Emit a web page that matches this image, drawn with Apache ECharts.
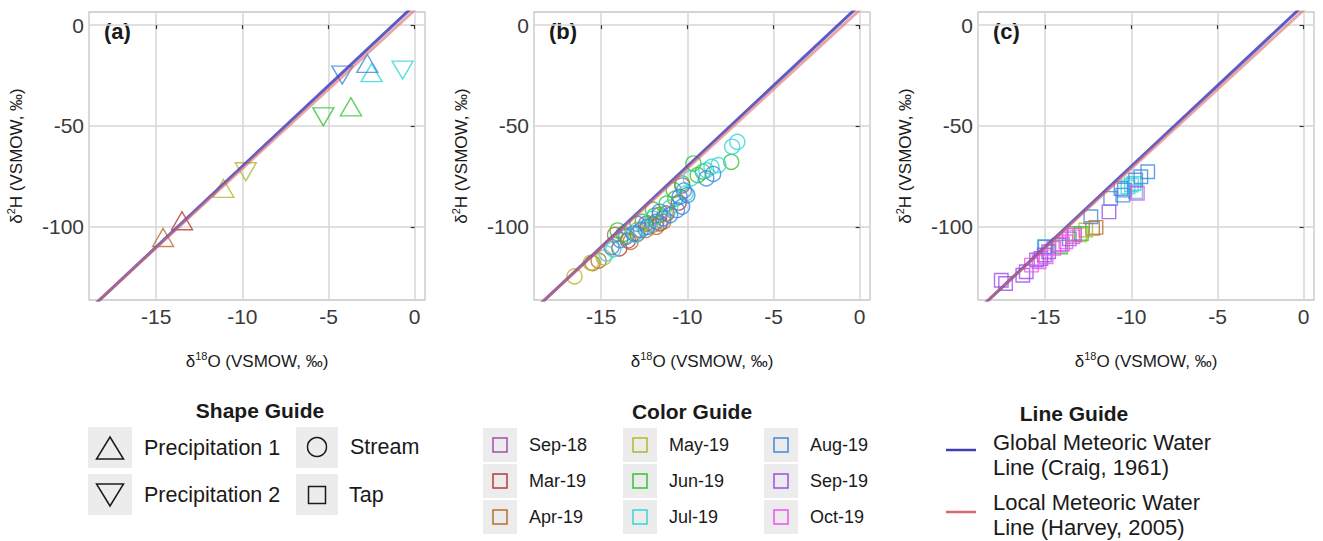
<!DOCTYPE html>
<html><head><meta charset="utf-8">
<script src="https://cdn.jsdelivr.net/npm/echarts@6/dist/echarts.min.js"></script>
<style>html,body{margin:0;padding:0;background:#fff}#c{width:1323px;height:541px}</style>
</head><body><div id="c"></div>
<script>
// ---------- data ----------
const months = ['Sep-18','Mar-19','Apr-19','May-19','Jun-19','Jul-19','Aug-19','Sep-19','Oct-19'];
const monthColors = ['#a64ca6','#b83a3a','#b5702e','#b5b52e','#33c433','#33d6d6','#3f88e0','#9b4ee8','#f050f0'];
const xTicks = [-15,-10,-5,0];
const yTicks = [-100,-50,0];
const panelLabels = ['(a)','(b)','(c)'];
// meteoric water lines: [slope, intercept]
const gmwl = [8, 10];        // Craig, 1961
const lmwl = [7.86, 7.5];    // Harvey, 2005
// [d18O, d2H, month]
const precip1 = [[-14.6,-105.3,'Apr-19'],[-13.5,-97.0,'Mar-19'],[-11.1,-81.0,'May-19'],[-3.7,-40.5,'Jun-19'],[-2.75,-19.0,'Aug-19'],[-2.5,-23.6,'Jul-19']];
const precip2 = [[-9.8,-72.7,'May-19'],[-5.3,-45.5,'Jun-19'],[-4.2,-24.8,'Aug-19'],[-0.7,-22.3,'Jul-19']];
const stream = [
 [-10.3,-79.5,'Sep-18'],[-12.4,-98.5,'Sep-18'],[-11.6,-94,'Sep-18'],
 [-13.95,-110.7,'Mar-19'],[-13.45,-106.8,'Mar-19'],[-11.2,-93.4,'Mar-19'],[-11.6,-98.3,'Mar-19'],[-12.9,-103.5,'Mar-19'],[-10.5,-88,'Mar-19'],
 [-15.5,-118,'Apr-19'],[-15.15,-116.8,'Apr-19'],[-12.4,-101.6,'Apr-19'],[-11.8,-100,'Apr-19'],[-11.4,-97.5,'Apr-19'],[-13.3,-107.5,'Apr-19'],[-12.0,-99,'Apr-19'],[-14.2,-104,'Apr-19'],
 [-16.55,-124.6,'May-19'],[-15.6,-117.8,'May-19'],[-14.85,-115.2,'May-19'],[-13.6,-104.5,'May-19'],[-12.9,-101.5,'May-19'],[-12.2,-98.5,'May-19'],[-11.3,-93.5,'May-19'],
 [-14.05,-101.8,'Jun-19'],[-13.7,-103.5,'Jun-19'],[-12.6,-97.5,'Jun-19'],[-11.9,-94.5,'Jun-19'],[-10.8,-81.8,'Jun-19'],[-10.7,-86,'Jun-19'],[-10.3,-78.5,'Jun-19'],[-9.65,-68.6,'Jun-19'],[-9.1,-72.7,'Jun-19'],[-9.4,-74.4,'Jun-19'],[-7.45,-67.8,'Jun-19'],[-11.2,-88.5,'Jun-19'],[-12.0,-91.5,'Jun-19'],
 [-14.7,-113.2,'Jul-19'],[-14.3,-111.2,'Jul-19'],[-12.0,-96,'Jul-19'],[-11.0,-90.5,'Jul-19'],[-9.8,-76,'Jul-19'],[-8.9,-72,'Jul-19'],[-8.6,-70.3,'Jul-19'],[-8.2,-69.4,'Jul-19'],[-7.4,-60.3,'Jul-19'],[-7.1,-57.9,'Jul-19'],[-10.1,-83.5,'Jul-19'],[-13.0,-104,'Jul-19'],[-12.5,-100.5,'Jul-19'],
 [-13.9,-106.6,'Aug-19'],[-13.55,-105,'Aug-19'],[-13.1,-103.3,'Aug-19'],[-12.7,-101.6,'Aug-19'],[-12.3,-100,'Aug-19'],[-11.8,-97.5,'Aug-19'],[-11.4,-95.8,'Aug-19'],[-11.0,-94.2,'Aug-19'],[-10.6,-91.7,'Aug-19'],[-10.3,-90,'Aug-19'],[-10.0,-84.3,'Aug-19'],[-10.45,-85.2,'Aug-19'],[-8.9,-76,'Aug-19'],[-8.5,-73.8,'Aug-19'],[-10.2,-82,'Aug-19'],[-14.4,-110,'Aug-19'],[-12.9,-98.5,'Aug-19'],[-11.6,-92.5,'Aug-19']
];
const tap = [
 [-17.3,-128.1,'Sep-19'],[-17.55,-126.5,'Sep-19'],[-16.3,-124,'Sep-19'],[-16.1,-122.3,'Sep-19'],[-15.5,-116.5,'Sep-19'],[-15.25,-115.7,'Sep-19'],[-15.05,-114,'Sep-19'],[-14.8,-112.4,'Sep-19'],[-14.2,-109.1,'Sep-19'],[-11.3,-92.6,'Sep-19'],[-13.6,-106,'Sep-19'],
 [-15.35,-117.3,'Oct-19'],[-14.95,-114.9,'Oct-19'],[-14.5,-110.7,'Oct-19'],[-13.8,-107.4,'Oct-19'],[-13.4,-105,'Oct-19'],[-13.3,-104.1,'Oct-19'],[-9.65,-83.4,'Oct-19'],[-14.0,-108.5,'Oct-19'],[-15.8,-119,'Oct-19'],
 [-12.35,-95,'Aug-19'],[-11.2,-85.9,'Aug-19'],[-10.5,-84.3,'Aug-19'],[-10.4,-81.8,'Aug-19'],[-10.6,-81,'Aug-19'],[-9.75,-76.8,'Aug-19'],[-9.45,-75.2,'Aug-19'],[-9.05,-72.7,'Aug-19'],[-15.0,-110,'Aug-19'],
 [-15.05,-109.9,'Jul-19'],[-10.2,-80.2,'Jul-19'],[-9.75,-82.6,'Jul-19'],[-10.0,-79.3,'Jul-19'],[-9.85,-78.5,'Jul-19'],
 [-13.3,-103.3,'Jun-19'],[-12.9,-103.3,'Jun-19'],[-14.1,-110,'Jun-19'],
 [-12.65,-101.6,'May-19'],[-13.0,-104,'May-19'],
 [-12.25,-100.8,'Apr-19'],[-12.05,-100.3,'Apr-19']
];

// ---------- layout ----------
const FONT = 'Liberation Sans';
const gridLefts = [89, 534, 978];
const GW = 336, GH = 288, GT = 12;
const XMIN = -18.9, XMAX = 0.6, YMIN = -136.3, YMAX = 6.5;

const grids = gridLefts.map(l => ({left:l, top:GT, width:GW, height:GH, show:true, borderColor:'#c6c6c6', borderWidth:1.3, backgroundColor:'#fff'}));
const richT = {t:{fontSize:17, color:'#1a1a1a', fontFamily:FONT, lineHeight:22, verticalAlign:'middle'}, s:{fontSize:11, color:'#1a1a1a', fontFamily:FONT, lineHeight:12, verticalAlign:'top'}};
const xAxes = gridLefts.map((l,i) => ({
  type:'value', gridIndex:i, min:XMIN, max:XMAX,
  name:'{t|δ}{s|18}{t|O (VSMOW, ‰)}', nameLocation:'middle', nameGap:50, nameTextStyle:{rich:richT},
  axisLine:{show:false},
  axisTick:{show:true, length:4, customValues:xTicks, lineStyle:{color:'#333', width:1.2}},
  axisLabel:{customValues:xTicks, fontSize:21, color:'#3a3a3a', fontFamily:FONT, margin:6},
  splitLine:{show:true, lineStyle:{color:'#d6d6d6', width:1.5}}
}));
const yAxes = gridLefts.map((l,i) => ({
  type:'value', gridIndex:i, min:YMIN, max:YMAX,
  name:'{t|δ}{s|2}{t|H (VSMOW, ‰)}', nameLocation:'middle', nameGap:62, nameRotate:90, nameTextStyle:{rich:richT},
  axisLine:{show:false},
  axisTick:{show:true, length:4, customValues:yTicks, lineStyle:{color:'#333', width:1.2}},
  axisLabel:{customValues:yTicks, fontSize:21, color:'#3a3a3a', fontFamily:FONT, margin:5},
  splitLine:{show:true, lineStyle:{color:'#d6d6d6', width:1.5}}
}));

function scatterSeries(data, gi, symbol, size, rotate){
  return months.map((m,i) => ({
    type:'scatter', xAxisIndex:gi, yAxisIndex:gi, name:m, symbol:symbol, symbolSize:size, symbolRotate:rotate||0,
    data: data.filter(d => d[2] === m).map(d => [d[0], d[1]]),
    itemStyle:{color:'rgba(0,0,0,0)', borderColor:monthColors[i], borderWidth:1.4},
    silent:true, z:2
  })).filter(s => s.data.length);
}
function mwlSeries(coef, gi, color, opacity){
  const xs = [-20, 2];
  return {type:'line', xAxisIndex:gi, yAxisIndex:gi, showSymbol:false, clip:true, silent:true, z:3,
    data: xs.map(x => [x, coef[0]*x + coef[1]]),
    lineStyle:{color:color, width:3, opacity:opacity}};
}

let series = [];
series = series.concat(scatterSeries(precip1, 0, 'triangle', [21,18], 0));
series = series.concat(scatterSeries(precip2, 0, 'triangle', [21,18], 180));
series = series.concat(scatterSeries(stream, 1, 'circle', 15, 0));
series = series.concat(scatterSeries(tap, 2, 'rect', 13.5, 0));
[0,1,2].forEach(gi => {
  series.push(mwlSeries(gmwl, gi, '#4040c0', 0.85));
  series.push(mwlSeries(lmwl, gi, '#d86a6a', 0.6));
});

// ---------- legends (graphic) ----------
const G = [];
function txt(x, y, s, size, weight, align){
  G.push({type:'text', x:x, y:y, style:{text:s, fontSize:size, fontWeight:weight||'normal', fontFamily:FONT, fill:'#1a1a1a', align:align||'left', verticalAlign:'middle'}});
}
function rect(x, y, w, h, fill, stroke){
  G.push({type:'rect', shape:{x:x, y:y, width:w, height:h}, style:{fill:fill, stroke:stroke||null, lineWidth:1.5}});
}
panelLabels.forEach((p,i) => txt(gridLefts[i] + 15, 31, p, 22, 'bold'));
// Shape guide
txt(260, 410, 'Shape Guide', 21, 'bold', 'center');
rect(88, 427, 44, 41, '#ececec'); rect(88, 474, 44, 41, '#ececec');
rect(296, 427, 42, 41, '#ececec'); rect(296, 474, 42, 41, '#ececec');
G.push({type:'polygon', shape:{points:[[110,437],[123.5,459],[96.5,459]]}, style:{fill:'none', stroke:'#1a1a1a', lineWidth:1.5}});
G.push({type:'polygon', shape:{points:[[96.5,484],[123.5,484],[110,506]]}, style:{fill:'none', stroke:'#1a1a1a', lineWidth:1.5}});
G.push({type:'circle', shape:{cx:317, cy:447, r:9.5}, style:{fill:'none', stroke:'#1a1a1a', lineWidth:1.5}});
rect(308.5, 486.5, 17, 17, 'none', '#1a1a1a');
txt(144, 448, 'Precipitation 1', 21.5); txt(144, 495, 'Precipitation 2', 21.5);
txt(350, 447, 'Stream', 21.5); txt(349, 495, 'Tap', 21.5);
// Color guide
txt(692, 411, 'Color Guide', 21, 'bold', 'center');
const colX = [483, 623, 764], rowY = [428, 464, 500];
months.forEach((m,i) => {
  const c = Math.floor(i/3), r = i % 3;
  rect(colX[c], rowY[r], 34, 34, '#ececec');
  rect(colX[c] + 10, rowY[r] + 10, 14, 14, 'none', monthColors[i]);
  txt(colX[c] + 46, rowY[r] + 17, m, 18);
});
// Line guide
txt(1074, 413, 'Line Guide', 21, 'bold', 'center');
G.push({type:'line', shape:{x1:946, y1:450, x2:976, y2:450}, style:{stroke:'#3d3db8', lineWidth:2.5}});
G.push({type:'line', shape:{x1:946, y1:512, x2:976, y2:512}, style:{stroke:'#d86a6a', lineWidth:2.5}});
txt(993, 442, 'Global Meteoric Water', 22); txt(993, 467, 'Line (Craig, 1961)', 22);
txt(993, 502, 'Local Meteoric Water', 22); txt(993, 527, 'Line (Harvey, 2005)', 22);

const chart = echarts.init(document.getElementById('c'), null, {renderer:'svg'});
chart.setOption({
  animation:false, backgroundColor:'#fff',
  grid:grids, xAxis:xAxes, yAxis:yAxes, series:series, graphic:G
});
</script></body></html>
